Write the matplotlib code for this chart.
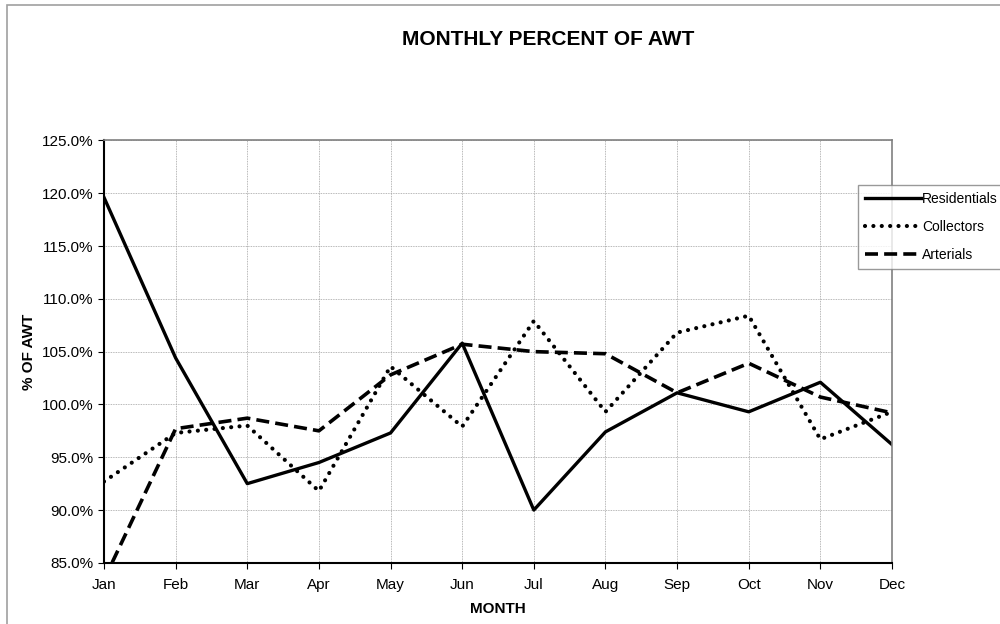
import matplotlib
matplotlib.use("Agg")
import matplotlib.pyplot as plt
from matplotlib.patches import Rectangle
from matplotlib.ticker import FuncFormatter

plt.rcParams["font.family"] = ["Liberation Sans", "DejaVu Sans"]

months = ["Jan", "Feb", "Mar", "Apr", "May", "Jun", "Jul", "Aug", "Sep", "Oct", "Nov", "Dec"]
residentials = [119.6, 104.4, 92.5, 94.5, 97.3, 105.8, 90.0, 97.4, 101.1, 99.3, 102.1, 96.2]
collectors = [92.7, 97.3, 98.0, 91.8, 103.6, 97.9, 107.9, 99.3, 106.8, 108.4, 96.7, 99.3]
arterials = [83.4, 97.7, 98.7, 97.5, 102.8, 105.7, 105.0, 104.8, 101.1, 103.9, 100.7, 99.2]

fig = plt.figure(figsize=(10, 6.24), dpi=100)
ax = fig.add_axes([0.104, 0.098, 0.788, 0.677])

x = range(len(months))
ax.plot(x, residentials, color="black", lw=2.4, label="Residentials")
ax.plot(x, collectors, color="black", lw=3.0, linestyle=(0, (0.01, 2.0)),
        dash_capstyle="round", label="Collectors")
ax.plot(x, arterials, color="black", lw=2.6, linestyle=(0, (3.6, 1.7)), label="Arterials")

ax.set_xlim(0, 11)
ax.set_ylim(85, 125)
ax.set_xticks(list(x))
ax.set_xticklabels(months)
ax.set_yticks([85, 90, 95, 100, 105, 110, 115, 120, 125])
ax.yaxis.set_major_formatter(FuncFormatter(lambda v, p: f"{v:.1f}%"))
ax.tick_params(labelsize=11, length=4, width=0.8, colors="black")
ax.tick_params(axis="x", pad=7)

ax.grid(True, color="#a0a0a0", linestyle=(0, (1, 1)), lw=0.6)
ax.set_axisbelow(True)
for s in ["top", "right"]:
    ax.spines[s].set_color("#808080")
    ax.spines[s].set_linewidth(1.2)
ax.spines["left"].set_linewidth(1.5)
ax.spines["bottom"].set_linewidth(1.5)

ax.set_xlabel("MONTH", fontsize=11, fontweight="bold", labelpad=7)
ax.set_ylabel("% OF AWT", fontsize=11, fontweight="bold", labelpad=4)

fig.text(0.548, 0.936, "MONTHLY PERCENT OF AWT", ha="center", va="center",
         fontsize=15, fontweight="bold")

leg = fig.legend(loc="upper left", bbox_to_anchor=(0.858, 1 - 185 / 624),
                 frameon=True, fancybox=False, fontsize=10, handlelength=4.0,
                 handletextpad=0.1, borderpad=0.5, labelspacing=1.0, borderaxespad=0)
leg.get_frame().set_edgecolor("#808080")
leg.get_frame().set_linewidth(1.0)

# grey outer border of the chart area, runs off the right and bottom edges
fig.patches.append(Rectangle((0.007, -0.05), 1.1, 1.042,
                             transform=fig.transFigure, fill=False,
                             edgecolor="#a0a0a0", lw=1.2))

fig.savefig("out.png", dpi=100)
